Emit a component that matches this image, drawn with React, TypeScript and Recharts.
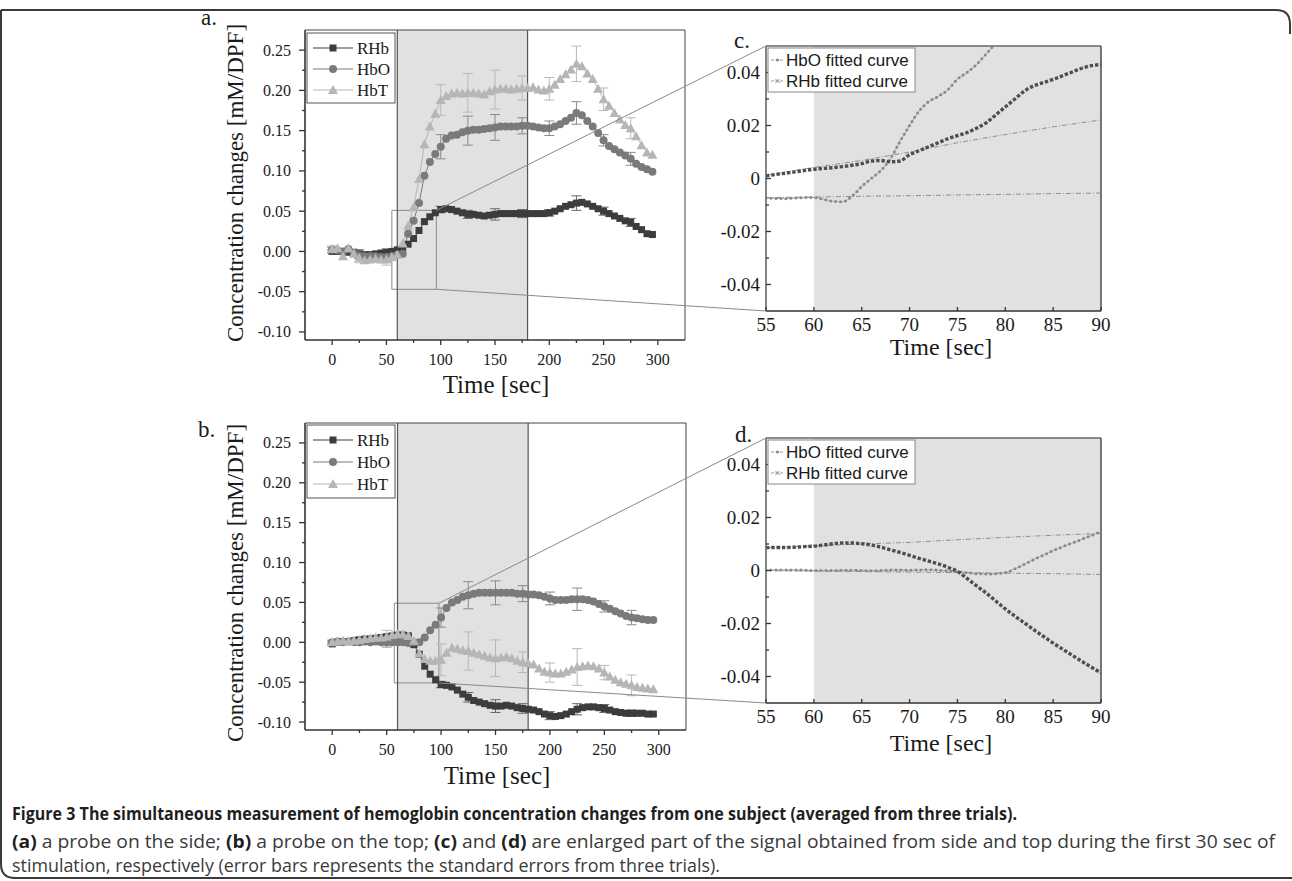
import { LineChart, Line, XAxis, YAxis, ReferenceArea, ReferenceLine, ErrorBar } from "recharts";

const SERIF = '"Liberation Serif", "Times New Roman", serif';
const SANS = '"Liberation Sans", Arial, sans-serif';
const CAPTION_FONT = '"Open Sans", "Noto Sans", sans-serif';

// time axis of the full recordings (sec)
const TIME = [
  0, 5, 10, 15, 20, 25, 30, 35, 40, 45, 50, 55, 60, 65, 70, 75, 80, 85, 90, 95,
  100, 105, 110, 115, 120, 125, 130, 135, 140, 145, 150, 155, 160, 165, 170, 175, 180, 185, 190, 195,
  200, 205, 210, 215, 220, 225, 230, 235, 240, 245, 250, 255, 260, 265, 270, 275, 280, 285, 290, 295,
];
const ERR_TIME = [0, 25, 50, 75, 100, 125, 150, 175, 200, 225, 250, 275];

// panel a: probe on the side
const A_RHB = [
  0.0, 0.0, 0.0, -0.001, -0.001, -0.003, -0.004, -0.004, -0.003, -0.002,
  -0.001, 0.0, 0.002, 0.004, 0.009, 0.016, 0.026, 0.037, 0.043, 0.048,
  0.052, 0.053, 0.052, 0.05, 0.048, 0.046, 0.046, 0.045, 0.044, 0.045,
  0.046, 0.047, 0.047, 0.047, 0.047, 0.047, 0.047, 0.047, 0.047, 0.047,
  0.048, 0.05, 0.053, 0.056, 0.058, 0.06, 0.061, 0.059, 0.056, 0.053,
  0.05, 0.047, 0.044, 0.041, 0.038, 0.036, 0.031, 0.027, 0.022, 0.021,
];
const A_HBO = [
  0.002, 0.001, 0.0, 0.003, -0.002, -0.005, -0.006, -0.006, -0.006, -0.007,
  -0.007, -0.006, -0.004, -0.003, 0.022, 0.038, 0.06, 0.094, 0.111, 0.121,
  0.13, 0.14, 0.144, 0.145, 0.148, 0.15, 0.151, 0.151, 0.152, 0.153,
  0.154, 0.155, 0.155, 0.155, 0.155, 0.156, 0.156, 0.155, 0.154, 0.153,
  0.153, 0.155, 0.158, 0.162, 0.166, 0.172, 0.169, 0.162, 0.155, 0.147,
  0.138, 0.131, 0.127, 0.123, 0.119, 0.115, 0.109, 0.105, 0.102, 0.099,
];
const A_HBT = [
  0.003, 0.004, -0.006, 0.004, -0.003, -0.008, -0.011, -0.01, -0.009, -0.01,
  -0.01, -0.007, -0.004, 0.01, 0.032, 0.055, 0.09, 0.133, 0.155, 0.171,
  0.188, 0.193, 0.196, 0.197, 0.196, 0.197, 0.197, 0.196, 0.195, 0.199,
  0.201, 0.202, 0.202, 0.201, 0.202, 0.203, 0.203, 0.204, 0.201, 0.2,
  0.202, 0.207, 0.214, 0.22, 0.226, 0.233, 0.23, 0.221, 0.214, 0.202,
  0.189, 0.181, 0.172, 0.164, 0.157, 0.153, 0.143, 0.132, 0.123, 0.12,
];
const A_RHB_ERR = [0.002, 0.005, 0.004, 0, 0.004, 0.005, 0.007, 0.005, 0.004, 0.009, 0.005, 0.005];
const A_HBO_ERR = [0.003, 0.004, 0.005, 0, 0.015, 0.018, 0.016, 0.01, 0.009, 0.014, 0.007, 0.008];
const A_HBT_ERR = [0.004, 0.006, 0.007, 0, 0.019, 0.024, 0.024, 0.015, 0.014, 0.022, 0.014, 0.013];

// panel b: probe on the top
const B_RHB = [
  -0.002, 0.0, 0.001, 0.001, 0.002, 0.003, 0.004, 0.004, 0.005, 0.006,
  0.007, 0.008, 0.009, 0.009, 0.008, -0.003, -0.015, -0.03, -0.04, -0.047,
  -0.053, -0.054, -0.056, -0.06, -0.065, -0.069, -0.073, -0.075, -0.077, -0.079,
  -0.08, -0.08, -0.079, -0.08, -0.082, -0.083, -0.084, -0.085, -0.087, -0.09,
  -0.092, -0.093, -0.092, -0.09, -0.087, -0.084, -0.082, -0.081, -0.081, -0.082,
  -0.083, -0.085, -0.087, -0.088, -0.089, -0.089, -0.089, -0.089, -0.09, -0.09,
];
const B_HBO = [
  0.0, 0.001, 0.0, 0.001, 0.0, 0.0, 0.001, 0.0, 0.001, 0.0,
  0.0, 0.0, 0.0, 0.0, -0.001, 0.0, 0.0, 0.006, 0.015, 0.022,
  0.031, 0.043, 0.05, 0.053, 0.057, 0.059, 0.061, 0.062, 0.062, 0.062,
  0.062, 0.062, 0.062, 0.062, 0.061, 0.061, 0.06, 0.06, 0.059, 0.057,
  0.055, 0.053, 0.053, 0.053, 0.054, 0.054, 0.054, 0.053, 0.051, 0.048,
  0.045, 0.042, 0.039, 0.036, 0.033, 0.031, 0.03, 0.029, 0.028, 0.028,
];
const B_HBT = [
  0.0, 0.001, 0.002, 0.001, 0.002, 0.003, 0.004, 0.005, 0.006, 0.006,
  0.007, 0.009, 0.01, 0.01, 0.008, 0.002, -0.014, -0.021, -0.023, -0.023,
  -0.022, -0.013, -0.007, -0.008, -0.01, -0.011, -0.013, -0.015, -0.017, -0.019,
  -0.02, -0.019, -0.018, -0.02, -0.023, -0.025, -0.026, -0.028, -0.033, -0.037,
  -0.038, -0.039, -0.039, -0.037, -0.034, -0.031, -0.03, -0.029, -0.03, -0.033,
  -0.038, -0.043, -0.047, -0.05, -0.052, -0.054, -0.056, -0.057, -0.058, -0.059,
];
const B_RHB_ERR = [0.002, 0.002, 0.003, 0, 0.004, 0.006, 0.008, 0.006, 0.005, 0.007, 0.005, 0.004];
const B_HBO_ERR = [0.002, 0.003, 0.006, 0, 0.012, 0.017, 0.015, 0.01, 0.008, 0.014, 0.007, 0.009];
const B_HBT_ERR = [0.003, 0.004, 0.008, 0, 0.02, 0.024, 0.023, 0.013, 0.012, 0.023, 0.009, 0.013];

// panels c, d: first 30 sec of stimulation
const ZOOM_TIME = [
  55, 56, 57, 58, 59, 60, 61, 62, 63, 64, 65, 66, 67, 68, 69, 70, 71, 72,
  73, 74, 75, 76, 77, 78, 79, 80, 81, 82, 83, 84, 85, 86, 87, 88, 89, 90,
];
const FIT_TIME = [55, 60, 65, 70, 75, 80, 85, 90];

const C_HBO = [
  -0.0074, -0.0075, -0.0076, -0.0074, -0.0072, -0.0072, -0.0078, -0.0086, -0.0088, -0.0066,
  -0.003, 0.0, 0.003, 0.0075, 0.014, 0.02, 0.0255, 0.029, 0.031, 0.0335,
  0.0375, 0.04, 0.043, 0.047, 0.051, null, null, null, null, null,
  null, null, null, null, null, null,
];
const C_RHB = [
  0.001, 0.0015, 0.002, 0.0025, 0.003, 0.0035, 0.0038, 0.0041, 0.0045, 0.005,
  0.0056, 0.0066, 0.0068, 0.0063, 0.0066, 0.009, 0.0105, 0.012, 0.0135, 0.015,
  0.0162, 0.0173, 0.019, 0.021, 0.024, 0.027, 0.03, 0.033, 0.035, 0.0362,
  0.0374, 0.0388, 0.0402, 0.0416, 0.0426, 0.043,
];
const C_HBO_FIT = [-0.0072, -0.007, -0.0067, -0.0065, -0.0062, -0.006, -0.0057, -0.0055];
const C_RHB_FIT = [0.0012, 0.0042, 0.0068, 0.01, 0.0135, 0.0166, 0.0195, 0.0221];

const D_HBO = [
  0.0001, 0.0002, 0.0002, 0.0002, 0.0001, 0.0, 0.0, 0.0, 0.0001, 0.0001,
  0.0, -0.0001, 0.0, 0.0002, 0.0002, 0.0001, 0.0002, 0.0003, 0.0001, -0.0002,
  -0.0005, -0.0008, -0.0012, -0.0013, -0.0012, -0.0008, 0.0006, 0.0024, 0.0042, 0.0058,
  0.0075, 0.009, 0.0104, 0.0118, 0.0132, 0.0147,
];
const D_RHB = [
  0.0086, 0.0087, 0.0087, 0.0088, 0.009, 0.0092, 0.0096, 0.0101, 0.0104, 0.0104,
  0.0101, 0.0096, 0.0088, 0.0078, 0.0068, 0.0057, 0.0046, 0.0035, 0.0025, 0.0012,
  -0.0003, -0.003, -0.0058, -0.0085, -0.0115, -0.0145, -0.0172, -0.0198, -0.0224, -0.0249,
  -0.0274, -0.0297, -0.032, -0.0343, -0.0365, -0.0386,
];
const D_HBO_FIT = [0.0, -0.0002, -0.0004, -0.0006, -0.0008, -0.001, -0.0012, -0.0015];
const D_RHB_FIT = [0.0086, 0.0093, 0.01, 0.0106, 0.0116, 0.0125, 0.0133, 0.014];

// axes
const X_DOMAIN_AB: [number, number] = [-25, 325];
const Y_DOMAIN_AB: [number, number] = [-0.11, 0.275];
const X_MAJOR_AB = [0, 50, 100, 150, 200, 250, 300];
const X_MINOR_AB = [25, 75, 125, 175, 225, 275];
const Y_MAJOR_AB = [-0.1, -0.05, 0, 0.05, 0.1, 0.15, 0.2, 0.25];
const Y_MINOR_AB = [-0.075, -0.025, 0.025, 0.075, 0.125, 0.175, 0.225];

const X_DOMAIN_CD: [number, number] = [55, 90];
const Y_DOMAIN_CD: [number, number] = [-0.05, 0.05];
const X_MAJOR_CD = [55, 60, 65, 70, 75, 80, 85, 90];
const Y_MAJOR_CD = [-0.04, -0.02, 0, 0.02, 0.04];
const Y_MINOR_CD = [-0.03, -0.01, 0.01, 0.03];

const STIM_START = 60;
const STIM_END = 180;

// zoomed windows marked in a and b
const BOX_A = { x1: 55, x2: 96, y1: -0.047, y2: 0.051 };
const BOX_B = { x1: 57, x2: 98, y1: -0.051, y2: 0.049 };

const SERIES_NAMES = ["RHb", "HbO", "HbT"];
const FIT_NAMES = ["HbO fitted curve", "RHb fitted curve"];

const C_RHB_COL = "#3c3c3c";
const C_HBO_COL = "#7a7a7a";
const C_HBT_COL = "#b6b6b6";
const AXIS = "#333";

type Rect = { x: number; y: number; w: number; h: number };
const RECT_A: Rect = { x: 305, y: 30, w: 380, h: 310 };
const RECT_B: Rect = { x: 305, y: 423, w: 381, h: 307 };
const RECT_C: Rect = { x: 766, y: 46, w: 335, h: 265 };
const RECT_D: Rect = { x: 766, y: 438, w: 335, h: 265 };

function buildRows(rhb: number[], hbo: number[], hbt: number[], eR: number[], eO: number[], eT: number[]) {
  return TIME.map((t, i) => {
    const k = ERR_TIME.indexOf(t);
    const pick = (arr: number[]) => (k >= 0 && arr[k] > 0 ? arr[k] : undefined);
    return { t, rhb: rhb[i], hbo: hbo[i], hbt: hbt[i], rhbErr: pick(eR), hboErr: pick(eO), hbtErr: pick(eT) };
  });
}

function buildZoomRows(hbo: (number | null)[], rhb: number[], hboFit: number[], rhbFit: number[]) {
  return ZOOM_TIME.map((t, i) => {
    const k = FIT_TIME.indexOf(t);
    return { t, hbo: hbo[i], rhb: rhb[i], hboFit: k >= 0 ? hboFit[k] : null, rhbFit: k >= 0 ? rhbFit[k] : null };
  });
}

const rowsA = buildRows(A_RHB, A_HBO, A_HBT, A_RHB_ERR, A_HBO_ERR, A_HBT_ERR);
const rowsB = buildRows(B_RHB, B_HBO, B_HBT, B_RHB_ERR, B_HBO_ERR, B_HBT_ERR);
const rowsC = buildZoomRows(C_HBO, C_RHB, C_HBO_FIT, C_RHB_FIT);
const rowsD = buildZoomRows(D_HBO, D_RHB, D_HBO_FIT, D_RHB_FIT);

const isIn = (list: number[], v: number) => list.some((m) => Math.abs(m - v) < 1e-9);

function makeXTick(major: number[], fmt: (v: number) => string, o: { size: number; font: string; len: number; minorLen: number; inward: boolean; gap: number }) {
  return (props: any) => {
    const { x, y, payload } = props;
    const v = payload.value as number;
    const big = isIn(major, v);
    const dir = o.inward ? -1 : 1;
    return (
      <g>
        <line x1={x} y1={y} x2={x} y2={y + dir * (big ? o.len : o.minorLen)} stroke={AXIS} strokeWidth={1.3} />
        {big && (
          <text x={x} y={y + o.gap} textAnchor="middle" dominantBaseline="central" fontFamily={o.font} fontSize={o.size} fill="#1a1a1a">
            {fmt(v)}
          </text>
        )}
      </g>
    );
  };
}

function makeYTick(major: number[], fmt: (v: number) => string, o: { size: number; font: string; len: number; minorLen: number; inward: boolean; gap: number }) {
  return (props: any) => {
    const { x, y, payload } = props;
    const v = payload.value as number;
    const big = isIn(major, v);
    const dir = o.inward ? 1 : -1;
    return (
      <g>
        <line x1={x} y1={y} x2={x + dir * (big ? o.len : o.minorLen)} y2={y} stroke={AXIS} strokeWidth={1.3} />
        {big && (
          <text x={x - o.gap} y={y} textAnchor="end" dominantBaseline="central" fontFamily={o.font} fontSize={o.size} fill="#1a1a1a">
            {fmt(v)}
          </text>
        )}
      </g>
    );
  };
}

const xTickAB = makeXTick(X_MAJOR_AB, (v) => String(v), { size: 16, font: SERIF, len: 5, minorLen: 3, inward: false, gap: 19 });
const yTickAB = makeYTick(Y_MAJOR_AB, (v) => v.toFixed(2), { size: 16, font: SERIF, len: 6, minorLen: 3, inward: false, gap: 14 });
const xTickCD = makeXTick(X_MAJOR_CD, (v) => String(v), { size: 19, font: SERIF, len: 4, minorLen: 2, inward: true, gap: 13 });
const yTickCD = makeYTick(Y_MAJOR_CD, (v) => (v === 0 ? "0" : v.toFixed(2)), { size: 19, font: SERIF, len: 5, minorLen: 3, inward: true, gap: 6 });

const squareDot = (props: any) => {
  const { cx, cy, index } = props;
  if (cx == null || cy == null) return <g key={`s${index}`} />;
  return <rect key={`s${index}`} x={cx - 3.5} y={cy - 3.5} width={7} height={7} fill={C_RHB_COL} />;
};
const circleDot = (props: any) => {
  const { cx, cy, index } = props;
  if (cx == null || cy == null) return <g key={`c${index}`} />;
  return <circle key={`c${index}`} cx={cx} cy={cy} r={4} fill={C_HBO_COL} />;
};
const triDot = (props: any) => {
  const { cx, cy, index } = props;
  if (cx == null || cy == null) return <g key={`t${index}`} />;
  return <polygon key={`t${index}`} points={`${cx},${cy - 5} ${cx + 5},${cy + 4} ${cx - 5},${cy + 4}`} fill={C_HBT_COL} />;
};

function TimeCourse({ rect, rows, box }: { rect: Rect; rows: any[]; box: typeof BOX_A }) {
  const MT = 10;
  const MR = 10;
  const YW = 90;
  const XH = 60;
  return (
    <div style={{ position: "absolute", left: rect.x - YW, top: rect.y - MT }}>
      <LineChart width={YW + rect.w + MR} height={MT + rect.h + XH} data={rows} margin={{ top: MT, right: MR, bottom: 0, left: 0 }}>
        <XAxis
          dataKey="t"
          type="number"
          domain={X_DOMAIN_AB}
          ticks={[...X_MAJOR_AB, ...X_MINOR_AB]}
          interval={0}
          allowDataOverflow
          height={XH}
          tickSize={0}
          tickMargin={0}
          tickLine={false}
          axisLine={{ stroke: AXIS, strokeWidth: 1.6 }}
          tick={xTickAB}
        />
        <YAxis
          type="number"
          domain={Y_DOMAIN_AB}
          ticks={[...Y_MAJOR_AB, ...Y_MINOR_AB]}
          interval={0}
          allowDataOverflow
          width={YW}
          tickSize={0}
          tickMargin={0}
          tickLine={false}
          axisLine={{ stroke: AXIS, strokeWidth: 1.6 }}
          tick={yTickAB}
        />
        <ReferenceArea x1={STIM_START} x2={STIM_END} fill="#e1e1e1" fillOpacity={1} strokeOpacity={0} />
        <ReferenceLine x={STIM_START} stroke="#555" strokeWidth={1.2} />
        <ReferenceLine x={STIM_END} stroke="#555" strokeWidth={1.2} />
        <ReferenceLine y={Y_DOMAIN_AB[1]} stroke="#444" strokeWidth={1} />
        <ReferenceLine x={X_DOMAIN_AB[1]} stroke="#444" strokeWidth={1} />
        <ReferenceArea x1={box.x1} x2={box.x2} y1={box.y1} y2={box.y2} fill="none" fillOpacity={0} stroke="#8a8a8a" strokeWidth={1} />
        <Line type="linear" dataKey="rhb" stroke={C_RHB_COL} strokeWidth={1} dot={squareDot} activeDot={false} isAnimationActive={false}>
          <ErrorBar dataKey="rhbErr" width={5} stroke="#666" strokeWidth={1} isAnimationActive={false} />
        </Line>
        <Line type="linear" dataKey="hbo" stroke={C_HBO_COL} strokeWidth={1} dot={circleDot} activeDot={false} isAnimationActive={false}>
          <ErrorBar dataKey="hboErr" width={5} stroke="#8a8a8a" strokeWidth={1} isAnimationActive={false} />
        </Line>
        <Line type="linear" dataKey="hbt" stroke={C_HBT_COL} strokeWidth={1} dot={triDot} activeDot={false} isAnimationActive={false}>
          <ErrorBar dataKey="hbtErr" width={5} stroke="#b9b9b9" strokeWidth={1} isAnimationActive={false} />
        </Line>
      </LineChart>
    </div>
  );
}

function ZoomPanel({ rect, rows }: { rect: Rect; rows: any[] }) {
  const MT = 10;
  const MR = 10;
  const YW = 70;
  const XH = 45;
  return (
    <div style={{ position: "absolute", left: rect.x - YW, top: rect.y - MT }}>
      <LineChart width={YW + rect.w + MR} height={MT + rect.h + XH} data={rows} margin={{ top: MT, right: MR, bottom: 0, left: 0 }}>
        <XAxis
          dataKey="t"
          type="number"
          domain={X_DOMAIN_CD}
          ticks={X_MAJOR_CD}
          interval={0}
          allowDataOverflow
          height={XH}
          tickSize={0}
          tickMargin={0}
          tickLine={false}
          axisLine={{ stroke: AXIS, strokeWidth: 1.6 }}
          tick={xTickCD}
        />
        <YAxis
          type="number"
          domain={Y_DOMAIN_CD}
          ticks={[...Y_MAJOR_CD, ...Y_MINOR_CD]}
          interval={0}
          allowDataOverflow
          width={YW}
          tickSize={0}
          tickMargin={0}
          tickLine={false}
          axisLine={{ stroke: "#666", strokeWidth: 1.6 }}
          tick={yTickCD}
        />
        <ReferenceArea x1={STIM_START} x2={X_DOMAIN_CD[1]} fill="#e1e1e1" fillOpacity={1} strokeOpacity={0} />
        <ReferenceLine y={Y_DOMAIN_CD[1]} stroke="#666" strokeWidth={1.4} />
        <ReferenceLine x={X_DOMAIN_CD[1]} stroke="#555" strokeWidth={1.6} />
        <Line type="linear" dataKey="hboFit" stroke="#8e8e8e" strokeWidth={1} strokeDasharray="5 2 1 2" dot={false} connectNulls activeDot={false} isAnimationActive={false} />
        <Line type="linear" dataKey="rhbFit" stroke="#8e8e8e" strokeWidth={1} strokeDasharray="5 2 1 2" dot={false} connectNulls activeDot={false} isAnimationActive={false} />
        <Line type="monotone" dataKey="hbo" stroke="#a0a0a0" strokeWidth={0.8} dot={false} activeDot={false} isAnimationActive={false} />
        <Line type="monotone" dataKey="hbo" stroke="#888" strokeWidth={3} strokeDasharray="0 5" strokeLinecap="round" dot={false} activeDot={false} isAnimationActive={false} />
        <Line type="monotone" dataKey="rhb" stroke="#4e4e4e" strokeWidth={3.4} strokeDasharray="3.4 1.9" dot={false} activeDot={false} isAnimationActive={false} />
      </LineChart>
    </div>
  );
}

const toPx = (r: Rect, xd: [number, number], yd: [number, number], x: number, y: number) => ({
  x: r.x + ((x - xd[0]) / (xd[1] - xd[0])) * r.w,
  y: r.y + r.h - ((y - yd[0]) / (yd[1] - yd[0])) * r.h,
});

function SeriesLegend({ x, y, rowH }: { x: number; y: number; rowH: number }) {
  const cols = [C_RHB_COL, C_HBO_COL, C_HBT_COL];
  return (
    <g>
      <rect x={x} y={y} width={88} height={rowH * 3 + 7} fill="white" stroke="#555" strokeWidth={1} />
      {SERIES_NAMES.map((name, i) => {
        const cy = y + 15 + i * rowH;
        const cx = x + 26;
        return (
          <g key={name}>
            <line x1={x + 6} x2={x + 46} y1={cy} y2={cy} stroke={cols[i]} strokeWidth={1} />
            {i === 0 && <rect x={cx - 3.5} y={cy - 3.5} width={7} height={7} fill={cols[i]} />}
            {i === 1 && <circle cx={cx} cy={cy} r={4} fill={cols[i]} />}
            {i === 2 && <polygon points={`${cx},${cy - 5} ${cx + 5},${cy + 4} ${cx - 5},${cy + 4}`} fill={cols[i]} />}
            <text x={x + 50} y={cy} dominantBaseline="central" fontFamily={SERIF} fontSize={17} fill="#1a1a1a">
              {name}
            </text>
          </g>
        );
      })}
    </g>
  );
}

function FitLegend({ x, y }: { x: number; y: number }) {
  return (
    <g>
      <rect x={x} y={y} width={147} height={44} fill="white" stroke="#888" strokeWidth={1} />
      {FIT_NAMES.map((name, i) => {
        const cy = y + 12 + i * 21;
        return (
          <g key={name}>
            <line x1={x + 3} x2={x + 16} y1={cy} y2={cy} stroke="#999" strokeWidth={1} strokeDasharray="3 1.5" />
            {i === 0 ? (
              <circle cx={x + 9.5} cy={cy} r={1.6} fill="#888" />
            ) : (
              <path d={`M${x + 7.5},${cy - 2} l4,4 M${x + 11.5},${cy - 2} l-4,4`} stroke="#888" strokeWidth={1} />
            )}
            <text x={x + 18} y={cy} dominantBaseline="central" fontFamily={SANS} fontSize={17} fill="#1a1a1a">
              {name}
            </text>
          </g>
        );
      })}
    </g>
  );
}

export default function App() {
  const aTop = toPx(RECT_A, X_DOMAIN_AB, Y_DOMAIN_AB, BOX_A.x2, BOX_A.y2);
  const aBot = toPx(RECT_A, X_DOMAIN_AB, Y_DOMAIN_AB, BOX_A.x2, BOX_A.y1);
  const bTop = toPx(RECT_B, X_DOMAIN_AB, Y_DOMAIN_AB, BOX_B.x2, BOX_B.y2);
  const bBot = toPx(RECT_B, X_DOMAIN_AB, Y_DOMAIN_AB, BOX_B.x2, BOX_B.y1);
  const ytitle = "Concentration changes [mM/DPF]";

  return (
    <div style={{ position: "absolute", left: 0, top: 0, width: 1292, height: 881, background: "white", overflow: "hidden" }}>
      <TimeCourse rect={RECT_A} rows={rowsA} box={BOX_A} />
      <TimeCourse rect={RECT_B} rows={rowsB} box={BOX_B} />
      <ZoomPanel rect={RECT_C} rows={rowsC} />
      <ZoomPanel rect={RECT_D} rows={rowsD} />
      <svg width={1292} height={881} style={{ position: "absolute", left: 0, top: 0, pointerEvents: "none" }}>
        <path d="M 1,10 L 1276,10 Q 1290,10 1290,24 L 1290,34" fill="none" stroke="#3a3a3a" strokeWidth={2} />
        <path d="M 1,10 L 1,864 Q 1,878 15,878 L 1292,878" fill="none" stroke="#3a3a3a" strokeWidth={2} />

        <line x1={aTop.x} y1={aTop.y} x2={RECT_C.x} y2={RECT_C.y} stroke="#8a8a8a" strokeWidth={1} />
        <line x1={aBot.x} y1={aBot.y} x2={RECT_C.x} y2={RECT_C.y + RECT_C.h} stroke="#8a8a8a" strokeWidth={1} />
        <line x1={bTop.x} y1={bTop.y} x2={RECT_D.x} y2={RECT_D.y} stroke="#8a8a8a" strokeWidth={1} />
        <line x1={bBot.x} y1={bBot.y} x2={RECT_D.x} y2={RECT_D.y + RECT_D.h} stroke="#8a8a8a" strokeWidth={1} />

        <text x={201} y={25} fontFamily={SERIF} fontSize={23} fill="#1a1a1a">a.</text>
        <text x={198} y={437} fontFamily={SERIF} fontSize={23} fill="#1a1a1a">b.</text>
        <text x={734} y={48} fontFamily={SERIF} fontSize={23} fill="#1a1a1a">c.</text>
        <text x={735} y={442} fontFamily={SERIF} fontSize={23} fill="#1a1a1a">d.</text>

        <text x={235} y={183} transform="rotate(-90 235 183)" textAnchor="middle" dominantBaseline="central" fontFamily={SERIF} fontSize={23} fill="#1a1a1a">
          {ytitle}
        </text>
        <text x={235} y={583} transform="rotate(-90 235 583)" textAnchor="middle" dominantBaseline="central" fontFamily={SERIF} fontSize={23} fill="#1a1a1a">
          {ytitle}
        </text>
        <text x={496} y={384} textAnchor="middle" dominantBaseline="central" fontFamily={SERIF} fontSize={25} fill="#1a1a1a">Time [sec]</text>
        <text x={497} y={775} textAnchor="middle" dominantBaseline="central" fontFamily={SERIF} fontSize={25} fill="#1a1a1a">Time [sec]</text>
        <text x={941} y={347} textAnchor="middle" dominantBaseline="central" fontFamily={SERIF} fontSize={24} fill="#1a1a1a">Time [sec]</text>
        <text x={941} y={743} textAnchor="middle" dominantBaseline="central" fontFamily={SERIF} fontSize={24} fill="#1a1a1a">Time [sec]</text>

        <SeriesLegend x={307} y={33} rowH={21} />
        <SeriesLegend x={307} y={425} rowH={22} />
        <FitLegend x={768} y={48} />
        <FitLegend x={768} y={440} />

        <text x={12} y={820} fontFamily={CAPTION_FONT} fontWeight={700} fontSize={18} fill="#1f1f1f" textLength={1005} lengthAdjust="spacingAndGlyphs">
          Figure 3 The simultaneous measurement of hemoglobin concentration changes from one subject (averaged from three trials).
        </text>
        <text x={12} y={848} fontFamily={CAPTION_FONT} fontSize={18} fill="#3a3a3a" textLength={1263} lengthAdjust="spacingAndGlyphs">
          <tspan fontWeight={700} fill="#1f1f1f">(a)</tspan> a probe on the side; <tspan fontWeight={700} fill="#1f1f1f">(b)</tspan> a probe on the top;{" "}
          <tspan fontWeight={700} fill="#1f1f1f">(c)</tspan> and <tspan fontWeight={700} fill="#1f1f1f">(d)</tspan> are enlarged part of the signal obtained from side and top during the first 30 sec of
        </text>
        <text x={12} y={872} fontFamily={CAPTION_FONT} fontSize={18} fill="#3a3a3a" textLength={708} lengthAdjust="spacingAndGlyphs">
          stimulation, respectively (error bars represents the standard errors from three trials).
        </text>
      </svg>
    </div>
  );
}
